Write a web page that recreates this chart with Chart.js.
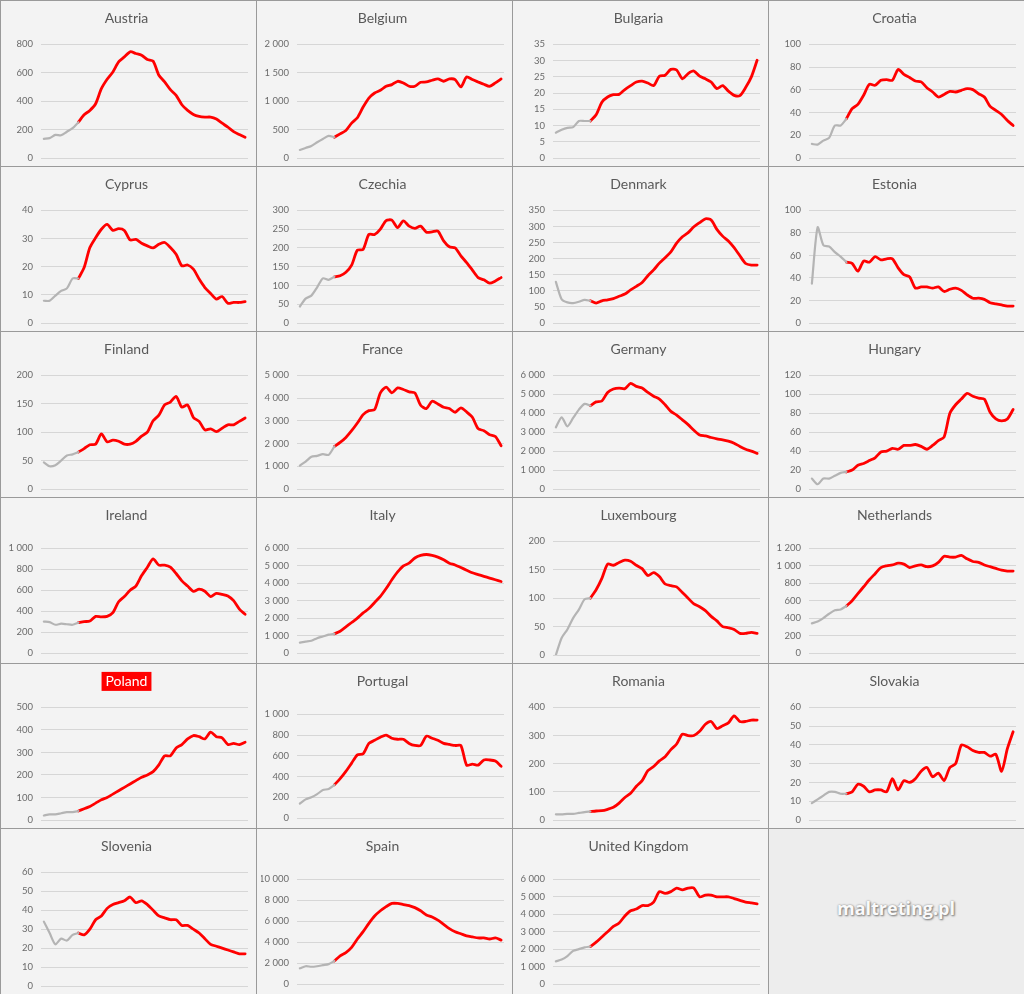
<!DOCTYPE html>
<html>
<head>
<meta charset="utf-8">
<script src="https://cdn.jsdelivr.net/npm/chart.js@4"></script>
<style>
	html, body { margin: 0; padding: 0; }
	body {
		width: 1024px;
		height: 994px;
		background: #ededed;
		position: relative;
		overflow: hidden;
		font-family: Lato, "Open Sans", sans-serif;
	}
	.cell {
		position: absolute;
		box-sizing: border-box;
		border: 1px solid #9a9a9a;
		background: rgba(250, 250, 250, 0.45);
	}
	.cell canvas { position: absolute; left: 0; top: 0; }
	#watermark {
		position: absolute;
		left: 768px;
		width: 256px;
		top: 896px;
		text-align: center;
		font: bold 18px "Open Sans", sans-serif;
		color: #fafafa;
		text-shadow: 0 0 2px #888, 1px 1px 2px #777;
	}
</style>
</head>
<body>
<div id="watermark">maltreting.pl</div>
<script>
// DATA
const countries = [
	"Austria", "Belgium", "Bulgaria", "Croatia",
	"Cyprus", "Czechia", "Denmark", "Estonia",
	"Finland", "France", "Germany", "Hungary",
	"Ireland", "Italy", "Luxembourg", "Netherlands",
	"Poland", "Portugal", "Romania", "Slovakia",
	"Slovenia", "Spain", "United Kingdom"
];
const weeks = [1, 2, 3, 4, 5, 6, 7, 8, 9, 10, 11, 12, 13, 14, 15, 16, 17, 18,
	19, 20, 21, 22, 23, 24, 25, 26, 27, 28, 29, 30, 31, 32, 33, 34, 35, 36];
// last week drawn in gray, first week drawn in red
const split_week = 6;

const austria = [135, 140, 163, 160, 185, 210, 252, 304, 335, 382, 488, 554, 606, 677, 712, 748, 736, 724, 694, 682, 583, 536, 481, 441, 375, 335, 307, 293, 288, 288, 274, 245, 217, 186, 165, 146];
const belgium = [142, 177, 212, 277, 336, 389, 366, 425, 484, 614, 708, 897, 1056, 1145, 1192, 1263, 1292, 1351, 1322, 1263, 1263, 1333, 1339, 1369, 1392, 1351, 1392, 1381, 1251, 1428, 1381, 1339, 1298, 1263, 1322, 1392];
const bulgaria = [7.8, 8.7, 9.3, 9.5, 11.4, 11.4, 11.4, 13.3, 17.2, 18.8, 19.5, 19.6, 21.1, 22.3, 23.4, 23.7, 23.1, 22.3, 25.2, 25.5, 27.3, 27.1, 24.4, 26.0, 26.8, 25.2, 24.4, 23.4, 21.4, 22.3, 20.6, 19.3, 19.2, 21.7, 25.0, 30.1];
const croatia = [12.4, 11.8, 15.3, 17.7, 28.6, 28.6, 34.5, 43.4, 47.2, 55.2, 64.9, 64.0, 68.4, 69.0, 68.4, 77.9, 73.7, 70.8, 67.8, 67.0, 61.9, 58.1, 53.7, 56.0, 58.7, 58.1, 59.6, 61.1, 60.2, 56.6, 53.7, 45.4, 41.9, 38.3, 33.0, 28.6];
const cyprus = [7.9, 7.9, 9.7, 11.4, 12.3, 15.8, 15.8, 19.7, 26.8, 30.3, 33.3, 35.0, 32.9, 33.5, 32.9, 29.5, 29.7, 28.3, 27.4, 26.7, 28.0, 28.6, 26.8, 24.4, 20.3, 20.6, 19.1, 15.6, 12.6, 10.5, 8.5, 9.4, 7.0, 7.3, 7.3, 7.6];
const czechia = [44, 65, 73, 95, 119, 115, 123, 126, 135, 154, 194, 196, 236, 236, 250, 273, 274, 254, 272, 258, 252, 258, 242, 243, 245, 219, 203, 200, 179, 161, 141, 121, 115, 106, 112, 121];
const denmark = [128, 74, 64, 62, 66, 72, 69, 62, 69, 72, 76, 83, 90, 103, 114, 126, 147, 165, 186, 203, 221, 248, 268, 281, 299, 312, 324, 320, 291, 270, 255, 234, 209, 185, 180, 180];
const estonia = [35, 85, 69, 68, 63, 59, 54, 53, 46, 55, 54, 59, 56, 57, 57, 49, 43, 41, 31, 32, 32, 31, 32, 28, 30, 31, 29, 25, 22, 22, 21, 18, 17, 16, 15, 15];
const finland = [47, 40, 42, 50, 59, 61, 65, 71, 78, 79, 97, 83, 86, 84, 79, 79, 84, 93, 100, 120, 130, 148, 153, 163, 144, 148, 126, 119, 104, 106, 101, 107, 113, 113, 119, 125];
const france = [1032, 1209, 1416, 1460, 1534, 1504, 1873, 2050, 2271, 2566, 2906, 3274, 3451, 3496, 4233, 4484, 4233, 4454, 4380, 4277, 4233, 3687, 3540, 3864, 3746, 3599, 3540, 3378, 3569, 3392, 3156, 2655, 2566, 2389, 2315, 1902];
const germany = [3257, 3788, 3310, 3752, 4195, 4496, 4400, 4600, 4650, 5100, 5280, 5330, 5300, 5580, 5420, 5330, 5100, 4900, 4750, 4450, 4100, 3900, 3650, 3400, 3100, 2850, 2800, 2720, 2650, 2600, 2530, 2420, 2250, 2100, 2000, 1880];
const hungary = [11, 5, 11, 11, 14, 17, 18, 20, 25, 27, 30, 33, 39, 40, 43, 42, 46, 46, 47, 45, 42, 46, 51, 55, 80, 89, 95, 101, 98, 96, 95, 81, 74, 72, 74, 84];
const ireland = [300, 295, 270, 280, 275, 270, 290, 300, 305, 350, 345, 350, 385, 490, 540, 600, 640, 740, 820, 900, 840, 840, 820, 760, 690, 640, 590, 610, 590, 540, 570, 560, 545, 500, 420, 370];
const italy = [600, 650, 700, 850, 950, 1050, 1100, 1250, 1500, 1750, 2000, 2300, 2550, 2900, 3250, 3700, 4200, 4650, 5000, 5150, 5450, 5600, 5650, 5600, 5500, 5350, 5150, 5050, 4900, 4750, 4600, 4500, 4400, 4300, 4200, 4100];
const luxembourg = [0, 30, 45, 65, 80, 98, 100, 115, 135, 160, 158, 163, 167, 165, 158, 152, 140, 145, 138, 125, 122, 120, 110, 100, 90, 85, 78, 68, 60, 50, 48, 45, 38, 38, 40, 38];
const netherlands = [340, 360, 400, 450, 490, 500, 540, 600, 680, 760, 840, 910, 980, 1000, 1010, 1030, 1020, 980, 1000, 1010, 990, 1000, 1040, 1110, 1100, 1100, 1120, 1080, 1050, 1040, 1010, 990, 970, 950, 940, 940];
const poland = [20, 25, 25, 30, 35, 35, 40, 50, 60, 75, 90, 100, 115, 130, 145, 160, 175, 190, 200, 215, 245, 285, 285, 320, 335, 360, 375, 370, 360, 390, 370, 365, 335, 340, 335, 345];
const portugal = [140, 180, 200, 230, 270, 280, 320, 380, 450, 530, 610, 620, 720, 750, 780, 800, 770, 760, 760, 720, 700, 700, 790, 770, 750, 720, 710, 700, 700, 510, 520, 510, 560, 560, 550, 500];
const romania = [20, 20, 22, 22, 25, 28, 30, 32, 33, 38, 45, 60, 80, 95, 120, 140, 175, 190, 210, 225, 250, 270, 305, 300, 300, 315, 340, 350, 325, 335, 345, 370, 350, 350, 355, 355];
const slovakia = [9, 11, 13, 15, 15, 14, 14, 15, 19, 18, 15, 16, 16, 15, 22, 16, 21, 20, 22, 26, 28, 23, 25, 21, 28, 30, 40, 39, 37, 36, 36, 34, 35, 26, 38, 47];
const slovenia = [34, 28, 22, 25, 24, 27, 28, 27, 30, 35, 37, 41, 43, 44, 45, 47, 44, 45, 43, 40, 37, 36, 35, 35, 32, 32, 30, 28, 25, 22, 21, 20, 19, 18, 17, 17];
const spain = [1500, 1700, 1650, 1700, 1800, 1900, 2200, 2700, 3000, 3500, 4300, 5000, 5800, 6500, 7000, 7400, 7700, 7700, 7600, 7500, 7300, 7000, 6600, 6400, 6100, 5700, 5300, 5000, 4800, 4600, 4500, 4400, 4400, 4300, 4400, 4200];
const united_kingdom = [1300, 1400, 1600, 1900, 2000, 2100, 2150, 2400, 2700, 3000, 3300, 3500, 3900, 4200, 4300, 4500, 4500, 4700, 5300, 5200, 5300, 5500, 5400, 5500, 5500, 5000, 5100, 5100, 5000, 5000, 5000, 4900, 4800, 4700, 4650, 4600];

const series = [
	austria, belgium, bulgaria, croatia,
	cyprus, czechia, denmark, estonia,
	finland, france, germany, hungary,
	ireland, italy, luxembourg, netherlands,
	poland, portugal, romania, slovakia,
	slovenia, spain, united_kingdom
];
// y axis: top tick and tick step of each panel
const axis_max = [800, 2000, 35, 100, 40, 300, 350, 100, 200, 5000, 6000, 120, 1000, 6000, 200, 1200, 500, 1000, 400, 60, 60, 10000, 6000];
const axis_step = [200, 500, 5, 20, 10, 50, 50, 20, 50, 1000, 1000, 20, 200, 1000, 50, 200, 100, 200, 100, 10, 10, 2000, 1000];
const highlighted = "Poland";

// LAYOUT
const cell_w = 256;
const cell_h = 994 / 6;
// a few panels have their plot area a bit lower in the original
const lowered_panels = ["Ireland", "Italy", "Netherlands", "Portugal", "Spain", "United Kingdom"];

function format_tick(value) {
	return String(value).replace(/\B(?=(\d{3})+(?!\d))/g, " ");
}

// red box behind the highlighted title
const title_box_plugin = {
	id: "title_box",
	beforeDraw(chart) {
		if (chart.options.plugins.title.text != highlighted) return;
		const ctx = chart.ctx;
		const block = chart.titleBlock;
		ctx.save();
		ctx.font = "14px Lato";
		const w = ctx.measureText(highlighted).width + 8;
		const cx = block.left + block.width / 2;
		const cy = block.top + block.options.padding.top + 8.4;
		ctx.fillStyle = "#ff0000";
		ctx.fillRect(cx - w / 2, cy - 9.5, w, 19);
		ctx.restore();
	}
};

function create_panel(index) {
	const row = Math.floor(index / 4);
	const col = index % 4;
	const top = Math.round(row * cell_h);
	const bottom = Math.round((row + 1) * cell_h);
	const cell = document.createElement("div");
	cell.className = "cell";
	cell.style.left = (col * cell_w) + "px";
	cell.style.top = top + "px";
	cell.style.width = (cell_w + 1) + "px";
	cell.style.height = (bottom - top + 1) + "px";
	const canvas = document.createElement("canvas");
	canvas.width = cell_w;
	canvas.height = bottom - top;
	cell.appendChild(canvas);
	document.body.appendChild(cell);

	const values = series[index];
	const name = countries[index];
	const gray = values.map((v, i) => i <= split_week ? v : null);
	const red = values.map((v, i) => i >= split_week ? v : null);
	const lowered = lowered_panels.includes(name);

	new Chart(canvas, {
		type: "line",
		data: {
			labels: weeks,
			datasets: [
				{
					data: gray,
					borderColor: "#b4b4b4",
					borderWidth: 2.2,
					pointRadius: 0,
					tension: 0.25,
					borderCapStyle: "round",
					borderJoinStyle: "round"
				},
				{
					data: red,
					borderColor: "#ff0000",
					borderWidth: 2.8,
					pointRadius: 0,
					tension: 0.25,
					borderCapStyle: "round",
					borderJoinStyle: "round"
				}
			]
		},
		options: {
			responsive: false,
			maintainAspectRatio: false,
			animation: false,
			layout: {
				padding: { left: 4, right: 9, top: 0, bottom: lowered ? 11 : 9 }
			},
			scales: {
				x: {
					display: false,
					offset: true,
					ticks: { display: false },
					afterFit: scale => { scale.height = 0; }
				},
				y: {
					min: 0,
					max: axis_max[index],
					afterFit: scale => { scale.width = 36; },
					border: { display: false },
					grid: {
						color: "#d6d6d6",
						lineWidth: 1,
						drawTicks: true,
						tickLength: 8,
						tickColor: "rgba(0, 0, 0, 0)"
					},
					ticks: {
						stepSize: axis_step[index],
						padding: 0,
						color: "#6b6b6b",
						font: { family: "Lato", size: 9.5 },
						callback: value => format_tick(value)
					}
				}
			},
			plugins: {
				legend: { display: false },
				tooltip: { enabled: false },
				title: {
					display: true,
					text: name,
					color: name == highlighted ? "#ffffff" : "#595959",
					font: { family: "Lato", size: 14, weight: "normal" },
					padding: { top: 9, bottom: lowered ? 24.6 : 17.6 }
				}
			}
		},
		plugins: [title_box_plugin]
	});
}

countries.forEach((_, i) => create_panel(i));
</script>
</body>
</html>
